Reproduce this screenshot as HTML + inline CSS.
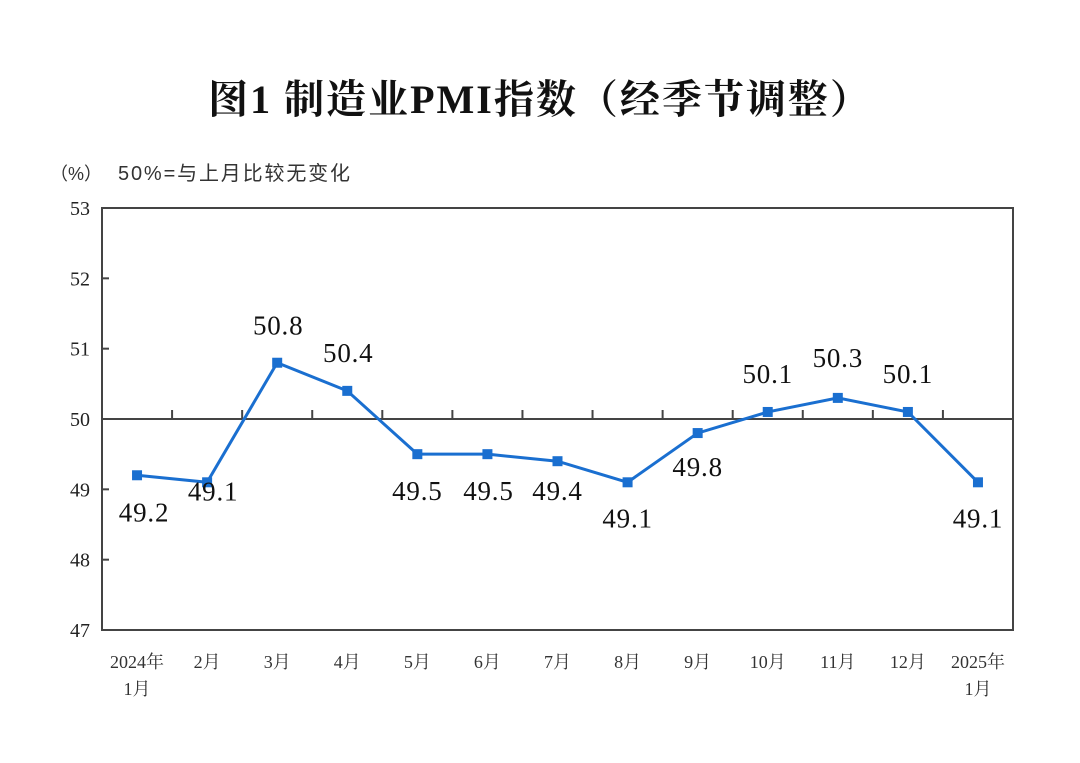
<!DOCTYPE html>
<html><head><meta charset="utf-8"><style>
body{margin:0;background:#fff;}
svg text{font-family:"Liberation Serif","Noto Serif CJK SC",serif;}
</style></head><body>
<svg width="1080" height="758" xmlns="http://www.w3.org/2000/svg">
<text x="540" y="113" text-anchor="middle" font-size="40" font-weight="bold" letter-spacing="2" fill="#111">图1  制造业PMI指数（经季节调整）</text>
<text x="50" y="180" font-size="18" fill="#333" style="font-family:'Liberation Sans','Noto Sans CJK SC',sans-serif">（%）</text>
<text x="118" y="180" font-size="20" fill="#333" textLength="232" style="font-family:'Liberation Sans','Noto Sans CJK SC',sans-serif">50%=与上月比较无变化</text>
<g id="plot"></g>
</svg>
<script>
const categories=["2024年|1月","2月","3月","4月","5月","6月","7月","8月","9月","10月","11月","12月","2025年|1月"];
const values=[49.2,49.1,50.8,50.4,49.5,49.5,49.4,49.1,49.8,50.1,50.3,50.1,49.1];
const valueLabels=["49.2","49.1","50.8","50.4","49.5","49.5","49.4","49.1","49.8","50.1","50.3","50.1","49.1"];
const yTicks=[47,48,49,50,51,52,53];
const labelDy=[36,8,-38,-39,36,36,29,35,33,-39,-41,-39,35];
const labelDx=[7,6,1,1,0,1,0,0,0,0,0,0,0];
const L=102,R=1013,T=208,B=630,yMin=47,yMax=53;
const bw=(R-L)/categories.length;
const xs=i=>L+bw*(i+0.5);
const ys=v=>B-(v-yMin)/(yMax-yMin)*(B-T);
const NS="http://www.w3.org/2000/svg";
const g=document.getElementById('plot');
function mk(t,a){const e=document.createElementNS(NS,t);for(const k in a)e.setAttribute(k,a[k]);g.appendChild(e);return e;}
let e=mk('rect',{x:L,y:T,width:R-L,height:B-T,fill:'none',stroke:'#444','stroke-width':2});


yTicks.forEach(t=>{
 const y=ys(t);
 let tk=mk('line',{x1:L,x2:L+7,y1:y,y2:y,stroke:'#444','stroke-width':2});
 
 
 let tx=mk('text',{x:90,y:y+7,'text-anchor':'end','font-size':20,fill:'#222'});
 tx.textContent=t;
 
 
});
const y50=ys(50);
e=mk('line',{x1:L,x2:R,y1:y50,y2:y50,stroke:'#444','stroke-width':2});


for(let i=1;i<categories.length;i++){
 const x=L+bw*i;
 let tk=mk('line',{x1:x,x2:x,y1:y50,y2:y50-9,stroke:'#444','stroke-width':2});
 
 
}
categories.forEach((c,i)=>{
 c.split('|').forEach((s,j)=>{
  let tx=mk('text',{x:xs(i),y:668+j*27,'text-anchor':'middle','font-size':18,fill:'#333'});
  tx.textContent=s;
  
  
 });
});
e=mk('polyline',{points:values.map((v,i)=>xs(i)+','+ys(v)).join(' '),fill:'none',stroke:'#1a6fd0','stroke-width':3});


values.forEach((v,i)=>{
 let m=mk('rect',{x:xs(i)-5,y:ys(v)-5,width:10,height:10,fill:'#1a6fd0'});
 
 
 let tx=mk('text',{x:xs(i)+labelDx[i],y:ys(v)+labelDy[i]+10,'text-anchor':'middle','font-size':27,'letter-spacing':0.8,fill:'#111'});
 tx.textContent=valueLabels[i];
 
 
});
</script>
</body></html>
